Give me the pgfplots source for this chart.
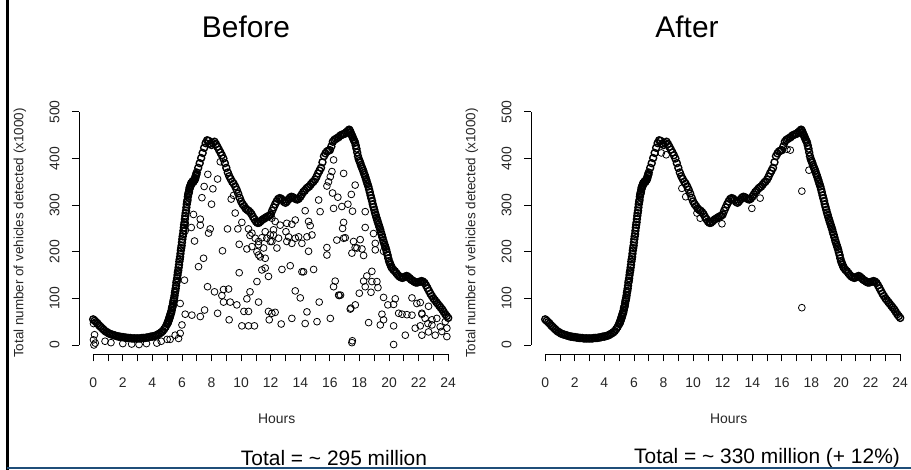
\documentclass[border=0pt]{standalone}
\usepackage{fontspec}
\setmainfont{Liberation Sans}
\usepackage{pgfplots}
\pgfplotsset{compat=1.18}
\usepackage{pgfplotstable}
\definecolor{slideline}{HTML}{1F4E79}

% main daily profile (x1000 vehicles), read off the "After" panel
\pgfplotstableread{
h v
0.0 55
0.1 52
0.2 49
0.3 46
0.4 42
0.5 39
0.6 36
0.7 33
0.8 30
0.9 28
1.0 26
1.1 24
1.2 23
1.3 22
1.4 21
1.5 20
1.6 19
1.7 18
1.8 18
1.9 17
2.0 17
2.1 16
2.2 16
2.3 15
2.4 15
2.5 15
2.6 14
2.7 14
2.8 14
2.9 14
3.0 14
3.1 14
3.2 14
3.3 15
3.4 15
3.5 15
3.6 16
3.7 16
3.8 17
3.9 18
4.0 18
4.1 19
4.2 20
4.3 21
4.4 23
4.5 25
4.6 27
4.7 30
4.8 34
4.9 39
5.000 45
5.025 47
5.050 48
5.075 51
5.100 53
5.125 56
5.150 57
5.175 61
5.200 62
5.225 66
5.250 68
5.275 70
5.300 74
5.325 79
5.350 81
5.375 84
5.400 89
5.425 94
5.450 97
5.475 101
5.500 106
5.525 112
5.550 116
5.575 121
5.600 127
5.625 134
5.650 138
5.675 143
5.700 150
5.725 156
5.750 160
5.775 166
5.800 172
5.825 179
5.850 184
5.875 189
5.900 196
5.925 203
5.950 208
5.975 213
6.000 220
6.025 227
6.050 233
6.075 238
6.100 245
6.125 252
6.150 258
6.175 263
6.200 270
6.225 277
6.250 283
6.275 288
6.300 295
6.325 302
6.350 307
6.375 311
6.400 318
6.425 323
6.450 326
6.475 329
6.500 334
6.525 338
6.550 339
6.575 341
6.600 344
6.625 347
6.650 347
6.675 347
6.700 349
6.725 351
6.750 351
6.775 350
6.800 352
6.825 354
6.850 355
6.875 355
6.900 358
6.925 362
6.950 364
6.975 366
7.0 370
7.1 380
7.2 390
7.3 401
7.4 412
7.5 423
7.6 433
7.7 439
7.8 438
7.9 432
8.0 429
8.1 433
8.2 436
8.3 431
8.4 425
8.5 419
8.6 413
8.7 407
8.8 400
8.9 390
9.0 380
9.1 370
9.2 362
9.3 356
9.4 350
9.5 346
9.6 340
9.7 333
9.8 325
9.9 316
10.0 308
10.1 302
10.2 298
10.3 293
10.4 290
10.5 288
10.6 285
10.7 281
10.8 275
10.9 270
11.0 265
11.1 262
11.2 262
11.3 265
11.4 268
11.5 270
11.6 272
11.7 274
11.8 276
11.9 277
12.0 280
12.1 288
12.2 295
12.3 302
12.4 308
12.5 313
12.6 315
12.7 314
12.8 311
12.9 307
13.0 305
13.1 308
13.2 312
13.3 316
13.4 318
13.5 317
13.6 315
13.7 313
13.8 312
13.9 314
14.0 318
14.1 323
14.2 328
14.3 331
14.4 335
14.5 338
14.6 340
14.7 344
14.8 348
14.9 351
15.0 355
15.1 361
15.2 368
15.3 374
15.4 380
15.5 392
15.6 405
15.7 411
15.8 415
15.9 417
16.0 418
16.1 426
16.2 436
16.3 440
16.4 442
16.5 444
16.6 446
16.7 449
16.8 451
16.9 452
17.0 453
17.1 456
17.2 459
17.3 462
17.35 460
17.40 456
17.45 452
17.50 449
17.55 445
17.60 441
17.65 438
17.70 434
17.75 428
17.80 421
17.85 413
17.90 405
17.95 399
18.00 395
18.05 391
18.10 386
18.15 382
18.20 378
18.25 374
18.30 369
18.35 365
18.40 360
18.45 355
18.50 350
18.55 345
18.60 340
18.65 334
18.70 328
18.75 321
18.80 315
18.85 309
18.90 302
18.95 296
19.00 290
19.05 284
19.10 279
19.15 273
19.20 268
19.25 263
19.30 258
19.35 253
19.40 248
19.45 242
19.50 237
19.55 231
19.60 225
19.65 220
19.70 215
19.75 210
19.80 205
19.85 199
19.90 193
19.95 186
20.00 180
20.05 176
20.10 172
20.15 168
20.2 165
20.3 161
20.4 158
20.5 154
20.6 150
20.7 147
20.8 145
20.9 144
21.0 145
21.1 147
21.2 148
21.3 146
21.4 143
21.5 140
21.6 138
21.7 136
21.8 134
21.9 134
22.0 135
22.1 136
22.2 137
22.3 136
22.4 133
22.5 128
22.6 122
22.7 116
22.8 110
22.9 105
23.0 100
23.1 96
23.2 92
23.3 88
23.4 84
23.5 80
23.6 76
23.7 71
23.8 66
23.9 62
24.0 58
}\maincurve

% scattered low readings in the "Before" panel
\pgfplotstableread{
h v
0.02 46
0.09 22
0.02 11
0.14 4
0.05 0
0.8 8
1.2 5
2.0 3
2.6 2
3.1 1
3.6 3
4.3 4
4.6 8
5.0 12
5.20 12
5.54 21
5.77 14
5.88 25
6.00 43
5.88 89
6.17 139
6.22 66
6.67 64
7.24 61
7.53 75
6.22 261
6.63 252
6.22 245
6.78 280
6.85 223
7.12 168
7.24 270
7.24 257
7.35 316
7.46 186
7.50 340
7.73 125
7.75 366
7.80 240
7.91 249
8.00 302
8.09 335
8.20 114
8.41 356
8.41 68
8.59 393
8.70 106
8.74 202
8.81 119
8.81 92
9.08 249
9.15 120
9.19 54
9.26 92
9.33 313
9.49 321
9.60 283
9.71 86
9.78 249
9.87 216
9.87 155
10.05 263
10.05 41
10.19 72
10.39 206
10.39 99
10.50 249
10.50 72
10.50 41
10.60 235
10.60 114
10.73 211
10.73 240
10.90 41
10.95 229
11.07 200
11.07 136
11.18 215
11.18 222
11.18 193
11.18 92
11.29 189
11.40 161
11.40 230
11.52 208
11.63 243
11.63 186
11.63 165
11.74 229
11.85 147
11.85 72
11.90 54
11.97 222
11.97 236
11.97 279
12.08 272
12.08 222
12.08 68
12.19 247
12.19 236
12.30 265
12.30 70
12.42 208
12.53 229
12.64 257
12.71 45
12.76 162
13.03 243
13.09 261
13.09 222
13.21 232
13.32 170
13.43 259
13.43 218
13.43 57
13.66 268
13.66 229
13.66 116
13.89 232
14.00 101
14.11 218
14.11 157
14.22 157
14.33 288
14.33 46
14.45 232
14.45 71
14.56 265
14.56 201
14.67 256
14.79 236
14.90 162
15.13 50
15.24 311
15.28 92
15.34 286
15.80 341
15.80 209
15.80 193
15.91 350
16.03 361
16.03 57
16.14 372
16.18 326
16.25 397
16.25 293
16.25 125
16.36 137
16.47 225
16.54 317
16.59 107
16.63 106
16.72 107
16.81 297
16.86 250
16.93 368
16.93 263
16.93 229
17.04 230
17.22 302
17.38 77
17.42 79
17.45 323
17.49 197
17.49 5
17.52 9
17.53 287
17.60 222
17.71 343
17.71 209
17.72 86
17.83 208
17.99 111
18.05 226
18.17 206
18.28 192
18.28 137
18.39 286
18.39 252
18.39 125
18.50 148
18.62 48
18.78 113
18.84 158
18.84 136
18.95 239
19.07 218
19.07 204
19.18 136
19.25 123
19.41 43
19.52 66
19.63 201
19.63 102
19.63 54
19.92 86
20.31 87
20.31 41
20.31 1
20.42 99
20.65 68
20.88 66
21.10 21
21.21 65
21.55 64
21.55 101
21.77 36
21.88 89
22.11 91
22.11 41
22.22 66
22.22 21
22.22 68
22.44 57
22.63 46
22.67 83
22.67 28
22.90 43
22.90 54
23.12 21
23.23 57
23.46 39
23.57 29
23.80 50
23.91 36
23.91 18
}\beforescatter

% the few readings in the "After" panel
\pgfplotstableread{
h v
7.85 412
8.18 408
9.24 336
9.50 318
10.26 283
10.48 272
11.95 260
13.97 293
14.53 315
16.35 420
16.57 418
17.83 375
17.35 330
17.35 80
}\afterscatter

\pgfplotsset{
  rplot/.style={
    scale only axis, width=383.4bp, height=242.4bp,
    xmin=-0.96, xmax=24.96, ymin=-20, ymax=500,
    axis x line*=bottom, axis y line*=left,
    x axis line style={-, shorten <=14.2bp, shorten >=14.2bp},
    y axis line style={-, shorten <=9.3bp},
    axis line style={black, line width=0.8bp},
    tick style={black, line width=0.8bp},
    tick align=outside,
    major tick length=7bp, minor tick length=7bp,
    xtick={0,2,...,24}, minor xtick={1,3,...,23},
    ytick={0,100,...,500},
    /pgf/number format/assume math mode=true,
    tick label style={font=\fontsize{14}{16}\selectfont, text=black!85},
    xticklabel style={yshift=-13bp},
    yticklabel style={xshift=-9bp, rotate=90, anchor=south},
    xlabel={Hours},
    ylabel={Total number of vehicles detected (x1000)},
    every axis x label/.style={at={(rel axis cs:0.5,0)}, anchor=center,
      yshift=-64.7bp, xshift=6bp, font=\fontsize{14}{16}\selectfont, text=black!85},
    every axis y label/.style={at={(rel axis cs:0,0.5)}, xshift=-59bp,
      anchor=center, rotate=90, font=\fontsize{13.5}{16}\selectfont, text=black!85},
  },
  rmarks/.style={only marks, mark=o, mark size=3.4bp,
    mark options={line width=0.8bp, draw=black}},
  rband/.style={only marks, mark=o, mark size=3.5bp,
    mark options={line width=1.4bp, draw=black}},
}

\begin{document}
\begin{tikzpicture}
\path[use as bounding box] (0,0) rectangle (911bp,470bp);

\begin{axis}[rplot, at={(79bp,115.7bp)}, anchor=south west]
\addplot[rmarks] table[x=h, y=v] {\beforescatter};
\addplot[rband] table[x=h, y=v] {\maincurve};
\end{axis}

\begin{axis}[rplot, at={(531bp,115.7bp)}, anchor=south west]
\addplot[rmarks] table[x=h, y=v] {\afterscatter};
\addplot[rband] table[x=h, y=v] {\maincurve};
\end{axis}

\node[font=\fontsize{30}{34}\selectfont] at (246bp,443bp) {Before};
\node[font=\fontsize{30}{34}\selectfont] at (687bp,443bp) {After};
\node[font=\fontsize{21}{24}\selectfont] at (334bp,12bp) {Total = \textasciitilde{} 295 million};
\node[font=\fontsize{21}{24}\selectfont] at (767bp,12bp) {Total = \textasciitilde{} 330 million (+ 12\%)};

\draw[line width=2.5bp] (7.5bp,0) -- (7.5bp,470bp);
\draw[slideline, line width=1.2bp] (7bp,2bp) -- (911bp,2bp);
\end{tikzpicture}
\end{document}
